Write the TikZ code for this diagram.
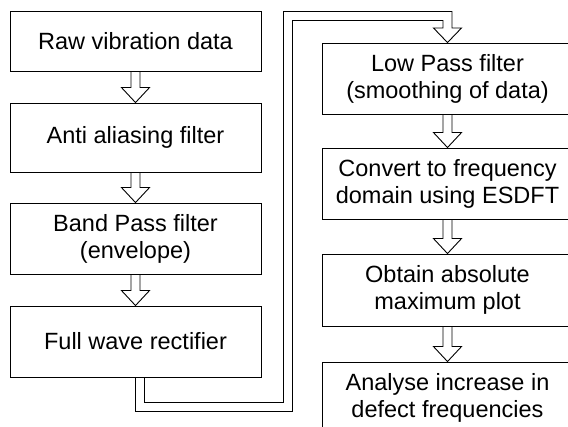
\documentclass[tikz,border=0pt]{standalone}
\usepackage{fontspec}
\setmainfont{Liberation Sans}
\usetikzlibrary{calc}

\tikzset{
  stepbox/.style={draw=black, line width=0.9pt, minimum width=251pt,
    inner sep=0pt, align=center, anchor=center,
    font=\fontsize{23.5}{27}\selectfont},
  arrowline/.style={draw=black, line width=0.9pt, line join=miter}
}

% hollow block arrow from the bottom of one box to the top of the next
\newcommand\hollowarrow[2]{%
  \draw[arrowline] let \p1=(#1.south), \p2=(#2.north) in
    (\x1-4.5pt,\y1) -- (\x1-4.5pt,\y2+15pt) -- (\x1-14pt,\y2+15pt)
    -- (\x1,\y2) -- (\x1+14pt,\y2+15pt) -- (\x1+4.5pt,\y2+15pt)
    -- (\x1+4.5pt,\y1);}

\begin{document}
\begin{tikzpicture}[x=1pt,y=-1pt]
  \useasboundingbox (0,0) rectangle (568,427);
  \fill[white] (0,0) rectangle (568,427);
  \clip (0,0) rectangle (568,427);

  % left column
  \node[stepbox, minimum height=60pt] (b1) at (135.5,41)  {Raw vibration data};
  \node[stepbox, minimum height=69pt] (b2) at (135.5,137.5) {Anti aliasing filter};
  \node[stepbox, minimum height=71pt] (b3) at (135.5,238.5) {Band Pass filter\\(envelope)};
  \node[stepbox, minimum height=71pt] (b4) at (135.5,341.5) {Full wave rectifier};

  % right column
  \node[stepbox, minimum height=71pt] (b5) at (447.5,78.5)  {Low Pass filter\\(smoothing of data)};
  \node[stepbox, minimum height=71pt] (b6) at (447.5,183.5) {Convert to frequency\\domain using ESDFT};
  \node[stepbox, minimum height=72pt] (b7) at (447.5,290)   {Obtain absolute\\maximum plot};
  \node[stepbox, minimum height=71pt] (b8) at (447.5,397.5) {Analyse increase in\\defect frequencies};

  \hollowarrow{b1}{b2}
  \hollowarrow{b2}{b3}
  \hollowarrow{b3}{b4}
  \hollowarrow{b5}{b6}
  \hollowarrow{b6}{b7}
  \hollowarrow{b7}{b8}

  % long hollow arrow from the rectifier round to the low pass filter:
  % centre-line bends, then one outline traced along both sides
  \coordinate (lowR) at (288,407);
  \coordinate (topL) at (288,16);
  \coordinate (hbase) at (447.5,28);
  \draw[arrowline] let \p1=([xshift=4.5pt]b4.south), \p2=(lowR), \p3=(topL),
      \p4=(hbase), \p5=(b5.north), \n1={4.5pt} in
    (\x1-\n1,\y1) |- (\x2+\n1,\y2-\n1) -- (\x3+\n1,\y3-\n1)
    -| (\x4-\n1,\y4) -- (\x4-14pt,\y4) -- (\x5,\y5) -- (\x4+14pt,\y4)
    -- (\x4+\n1,\y4) |- (\x3-\n1,\y3+\n1) -- (\x2-\n1,\y2+\n1)
    -| (\x1+\n1,\y1);
\end{tikzpicture}
\end{document}
